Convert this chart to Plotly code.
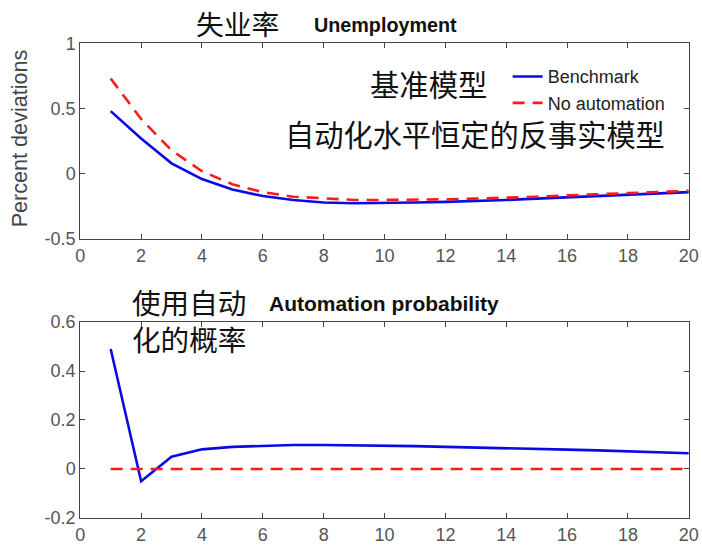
import plotly.graph_objects as go

# Periods after the shock
periods = list(range(1, 21))

# Unemployment response (percent deviations)
unemp_benchmark = [0.48, 0.27, 0.08, -0.04, -0.12, -0.17, -0.20, -0.22, -0.225, -0.225,
                   -0.22, -0.215, -0.21, -0.20, -0.19, -0.18, -0.17, -0.16, -0.15, -0.14]
unemp_no_auto = [0.73, 0.42, 0.18, 0.02, -0.08, -0.14, -0.175, -0.19, -0.20, -0.20,
                 -0.20, -0.195, -0.19, -0.185, -0.175, -0.165, -0.155, -0.15, -0.14, -0.13]

# Automation probability response
auto_benchmark = [0.49, -0.05, 0.05, 0.08, 0.09, 0.095, 0.098, 0.098, 0.097, 0.095,
                  0.093, 0.09, 0.088, 0.085, 0.082, 0.079, 0.076, 0.072, 0.068, 0.064]
auto_no_auto = [0.0] * 20

# Axis ticks
x_ticks = list(range(0, 21, 2))
top_ticks = [-0.5, 0, 0.5, 1]
top_labels = ["-0.5", "0", "0.5", "1"]
bot_ticks = [-0.2, 0, 0.2, 0.4, 0.6]
bot_labels = ["-0.2", "0", "0.2", "0.4", "0.6"]

# Figure size and the page-to-figure mapping (body margin and view scaling)
W, H = 712, 560
BODY_MARGIN = 8
SX, SY = 0.978, 0.965

BLUE = "#0a0ae6"
RED = "#ff1a1a"
CJK = "Noto Sans CJK SC"
LAT = "Liberation Sans, Arial, sans-serif"


def px_x(p):
    """Page pixel column -> paper x."""
    return (p / SX - BODY_MARGIN) / W


def px_y(p):
    """Page pixel row -> paper y."""
    return 1 - (p / SY - BODY_MARGIN) / H


def fs(size):
    """Font size compensated for the view scaling."""
    return size / ((SX + SY) / 2)


fig = go.Figure()

fig.add_trace(go.Scatter(x=periods, y=unemp_benchmark, mode="lines", name="Benchmark",
                         line=dict(color=BLUE, width=2.6), xaxis="x", yaxis="y"))
fig.add_trace(go.Scatter(x=periods, y=unemp_no_auto, mode="lines", name="No automation",
                         line=dict(color=RED, width=2.6, dash="12px,8px"), xaxis="x", yaxis="y"))
fig.add_trace(go.Scatter(x=periods, y=auto_benchmark, mode="lines", showlegend=False,
                         line=dict(color=BLUE, width=2.6), xaxis="x2", yaxis="y2"))
fig.add_trace(go.Scatter(x=periods, y=auto_no_auto, mode="lines", showlegend=False,
                         line=dict(color=RED, width=2.6, dash="12px,8px"), xaxis="x2", yaxis="y2"))

axis_common = dict(showgrid=False, zeroline=False, showline=True, linecolor="#444",
                   linewidth=1, mirror="ticks", ticks="inside", ticklen=5, tickcolor="#444",
                   ticklabeloverflow="allow",
                   tickfont=dict(family=LAT, size=fs(17.5), color="#555"))

x_dom = [px_x(83), px_x(691)]
fig.update_layout(
    width=W, height=H,
    margin=dict(l=0, r=0, t=0, b=0),
    paper_bgcolor="white", plot_bgcolor="white",
    xaxis=dict(domain=x_dom, range=[0, 20], tickvals=x_ticks, anchor="y", **axis_common),
    yaxis=dict(domain=[px_y(237), px_y(41)], range=[-0.5, 1], tickvals=top_ticks,
               ticktext=top_labels, anchor="x", **axis_common),
    xaxis2=dict(domain=x_dom, range=[0, 20], tickvals=x_ticks, anchor="y2", **axis_common),
    yaxis2=dict(domain=[px_y(516), px_y(320)], range=[-0.2, 0.6], tickvals=bot_ticks,
                ticktext=bot_labels, anchor="x2", **axis_common),
    legend=dict(x=px_x(510), y=px_y(56), xanchor="left", yanchor="top",
                bgcolor="rgba(255,255,255,0)", borderwidth=0,
                font=dict(family=LAT, size=fs(17.5), color="#222"), tracegroupgap=0),
    showlegend=True,
)

notes = [
    ("失业率", 240, 21, CJK, 27),
    ("<b>Unemployment</b>", 388, 23, LAT, 19.2),
    ("基准模型", 431, 81, CJK, 28.5),
    ("自动化水平恒定的反事实模型", 477, 131, CJK, 28.4),
    ("使用自动<br>化的概率", 192, 318, CJK, 27.8),
    ("<b>Automation probability</b>", 386, 301, LAT, 20.4),
]
for text, cx, cy, fam, size in notes:
    fig.add_annotation(text=text, x=px_x(cx), y=px_y(cy), xref="paper", yref="paper",
                       xanchor="center", yanchor="middle", showarrow=False, align="left",
                       font=dict(family=fam, size=fs(size), color="#111"))

fig.add_annotation(text="Percent deviations", x=px_x(22), y=px_y(136), xref="paper",
                   yref="paper", xanchor="center", yanchor="middle", showarrow=False,
                   textangle=-90, font=dict(family=LAT, size=fs(21), color="#444"))

fig.write_html("out.html")
